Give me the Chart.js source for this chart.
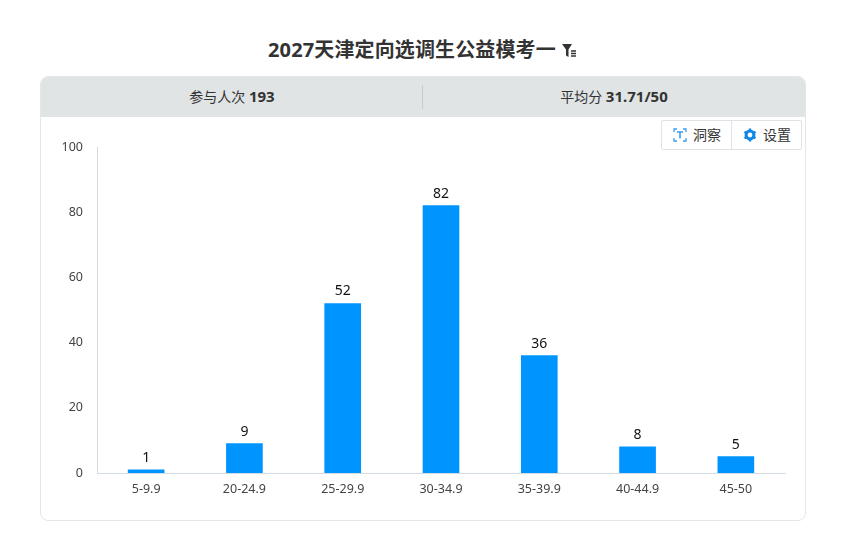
<!DOCTYPE html>
<html>
<head>
<meta charset="utf-8">
<script src="https://cdn.jsdelivr.net/npm/chart.js@4"></script>
<style>
html, body { margin: 0; padding: 0; background: #fff; overflow: hidden; }
body { width: 848px; height: 545px; position: relative; font-family: "Noto Sans", "Noto Sans CJK SC", sans-serif; color: #333; }
#title { position: absolute; left: 268px; top: 35px; font-size: 20px; font-weight: 700; line-height: 30px; white-space: nowrap; color: #333; letter-spacing: .13px; }
#title svg { position: absolute; left: 293px; top: 8px; }
#panel { position: absolute; left: 40px; top: 76px; width: 764px; height: 443px; border: 1px solid #e4e7ea; border-radius: 8px; overflow: hidden; }
#head { height: 40px; background: #e0e4e5; position: relative; font-size: 14px; line-height: 38px; }
#head span { position: absolute; white-space: nowrap; transform: translateX(-50%); }
#head b { font-size: 15px; }
#head i { position: absolute; left: 381px; top: 8px; width: 1px; height: 24px; background: #c8cdd0; }
#chartBox { position: absolute; left: 0; top: 0; width: 848px; height: 545px; }
#btns { position: absolute; left: 661px; top: 120px; width: 139px; height: 28px; border: 1px solid #dfe3e8; border-radius: 2px; background: #fff; font-size: 14px; line-height: 28px; color: #333; }
#btns div { position: absolute; top: 0; height: 28px; white-space: nowrap; }
#btns svg { position: absolute; top: 7px; left: -20px; }
#btns i { position: absolute; left: 69px; top: 0; width: 1px; height: 28px; background: #dfe3e8; }
</style>
</head>
<body>
<div id="title">2027天津定向选调生公益模考一
<svg width="18" height="16" viewBox="0 0 18 16"><path d="M1 1h10L7.5 6.5V14L5 12.5V6.5z" fill="#333"/><path d="M10 8h5M10 10.5h5M10 13h5" stroke="#333" stroke-width="1.3"/></svg>
</div>
<div id="panel">
  <div id="head">
    <span style="left:191px">参与人次 <b>193</b></span>
    <i></i>
    <span style="left:573px">平均分 <b>31.71/50</b></span>
  </div>
</div>
<div id="chartBox"><canvas id="scoreChart" width="848" height="545"></canvas></div>
<div id="btns">
  <div style="left:31px">
    <svg width="14" height="14" viewBox="0 0 14 14" fill="none" stroke="#3a9df0" stroke-width="1.3"><path d="M1 4V1h3M10 1h3v3M13 10v3h-3M4 13H1v-3"/><path d="M4 4h6M7 4v6.5" stroke-width="1.6"/></svg>洞察</div>
  <i></i>
  <div style="left:101px">
    <svg width="14" height="14" viewBox="0 0 14 14"><circle cx="7" cy="7" r="3.9" fill="none" stroke="#0f87e8" stroke-width="3"/><path d="M7 .6v2.4M7 11v2.4M1.5 3.8l2 1.2M10.5 9l2 1.2M1.5 10.2l2-1.2M10.5 5l2-1.2" stroke="#0f87e8" stroke-width="2.4"/></svg>设置</div>
</div>
<script>
var categories = ['5-9.9', '20-24.9', '25-29.9', '30-34.9', '35-39.9', '40-44.9', '45-50'];
var counts = [1, 9, 52, 82, 36, 8, 5];
var yTicks = [0, 20, 40, 60, 80, 100];

// numbers above the bars
var barLabels = {
    id: 'barLabels',
    afterDatasetsDraw: function (chart) {
        var ctx = chart.ctx;
        var bars = chart.getDatasetMeta(0).data;
        ctx.save();
        ctx.font = '14px "Noto Sans", "Noto Sans CJK SC"';
        ctx.fillStyle = '#111';
        ctx.textAlign = 'center';
        ctx.textBaseline = 'bottom';
        bars.forEach(function (bar, i) {
            ctx.fillText(counts[i], bar.x, bar.y - 5);
        });
        ctx.restore();
    }
};

var tickFont = { family: '"Noto Sans", "Noto Sans CJK SC"', size: 12.5 };

new Chart(document.getElementById('scoreChart').getContext('2d'), {
    type: 'bar',
    data: {
        labels: categories,
        datasets: [{
            data: counts,
            backgroundColor: '#0094ff',
            barThickness: 36
        }]
    },
    plugins: [barLabels],
    options: {
        responsive: false,
        animation: false,
        layout: { padding: { left: 0, top: 147, right: 63, bottom: 42 } },
        plugins: { legend: { display: false }, tooltip: { enabled: false } },
        scales: {
            x: {
                grid: { display: false, drawTicks: false },
                border: { color: '#d5dbe3' },
                ticks: { font: tickFont, color: '#444', padding: 9, maxRotation: 0 },
                afterFit: function (scale) { scale.height = 30; }
            },
            y: {
                min: 0,
                max: 100,
                afterBuildTicks: function (scale) {
                    scale.ticks = yTicks.map(function (v) { return { value: v }; });
                },
                grid: { display: false, drawTicks: false },
                border: { color: '#d5dbe3' },
                ticks: { font: tickFont, color: '#444', padding: 14 },
                afterFit: function (scale) { scale.width = 97; }
            }
        }
    }
});
</script>
</body>
</html>
